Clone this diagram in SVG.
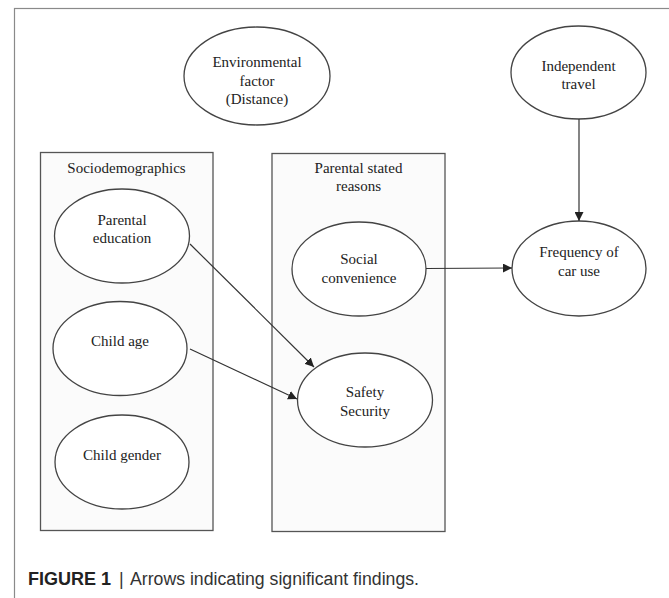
<svg xmlns="http://www.w3.org/2000/svg" width="669" height="598" viewBox="0 0 669 598">
<style>
.bg{fill:#ffffff}
.frame{fill:none;stroke:#8a8a8a;stroke-width:1.2}
.box{fill:#fbfbfb;stroke:#555;stroke-width:1.3}
.node{fill:#ffffff;stroke:#444;stroke-width:1.3}
.lbl{font-family:"Liberation Serif","Times New Roman",serif;font-size:15px;fill:#222;text-anchor:middle}
.edge{fill:none;stroke:#333;stroke-width:1.2;marker-end:url(#ah)}
.cap{font-family:"Liberation Sans",Arial,sans-serif;font-size:18px;fill:#333}
</style>
<defs>
<marker id="ah" viewBox="0 0 10 10" refX="10" refY="5" markerWidth="9" markerHeight="9" markerUnits="userSpaceOnUse" orient="auto">
<path d="M0,0 L10,5 L0,10 z" fill="#222"/>
</marker>
</defs>
<rect class="bg" x="0" y="0" width="669" height="598"/>
<rect class="frame" x="14.5" y="8.5" width="700" height="700"/>

<g id="sociodemographics">
<rect class="box" x="40.5" y="152.5" width="172.5" height="378"/>
<text class="lbl" x="126.5" y="173">Sociodemographics</text>
</g>
<g id="parental-stated-reasons">
<rect class="box" x="272" y="153.5" width="173" height="378"/>
<text class="lbl" x="358.5" y="173">Parental stated</text>
<text class="lbl" x="358.5" y="191">reasons</text>
</g>

<g id="environmental-factor">
<ellipse class="node" cx="257" cy="76" rx="73" ry="49"/>
<text class="lbl" x="257" y="67">Environmental</text>
<text class="lbl" x="257" y="86">factor</text>
<text class="lbl" x="257" y="104">(Distance)</text>
</g>
<g id="independent-travel">
<ellipse class="node" cx="578.5" cy="72.5" rx="67.5" ry="46.5"/>
<text class="lbl" x="578.5" y="71">Independent</text>
<text class="lbl" x="578.5" y="89">travel</text>
</g>
<g id="parental-education">
<ellipse class="node" cx="122" cy="236" rx="67.5" ry="47"/>
<text class="lbl" x="122" y="225">Parental</text>
<text class="lbl" x="122" y="243">education</text>
</g>
<g id="child-age">
<ellipse class="node" cx="120" cy="348.5" rx="67" ry="47"/>
<text class="lbl" x="120" y="346">Child  age</text>
</g>
<g id="child-gender">
<ellipse class="node" cx="122" cy="462" rx="67" ry="47"/>
<text class="lbl" x="122" y="460">Child  gender</text>
</g>
<g id="social-convenience">
<ellipse class="node" cx="359" cy="269" rx="67" ry="47"/>
<text class="lbl" x="359" y="264">Social</text>
<text class="lbl" x="359" y="283">convenience</text>
</g>
<g id="safety-security">
<ellipse class="node" cx="365" cy="400" rx="67.5" ry="47"/>
<text class="lbl" x="365" y="397">Safety</text>
<text class="lbl" x="365" y="416">Security</text>
</g>
<g id="frequency-of-car-use">
<ellipse class="node" cx="579" cy="268.5" rx="67" ry="47.5"/>
<text class="lbl" x="579" y="257">Frequency of</text>
<text class="lbl" x="579" y="276">car use</text>
</g>

<g id="connectors">
<line class="edge" x1="579" y1="119" x2="579" y2="221"/>
<line class="edge" x1="426" y1="268.5" x2="512" y2="268"/>
<line class="edge" x1="190" y1="244" x2="314" y2="367"/>
<line class="edge" x1="190" y1="349" x2="297" y2="399"/>
</g>

<g id="caption">
<text class="cap" x="28" y="585"><tspan font-weight="bold" fill="#222" textLength="83" lengthAdjust="spacingAndGlyphs">FIGURE 1</tspan></text>
<text class="cap" x="119" y="585">|</text>
<text class="cap" x="130" y="585" textLength="289" lengthAdjust="spacingAndGlyphs">Arrows indicating significant findings.</text>
</g>
</svg>
